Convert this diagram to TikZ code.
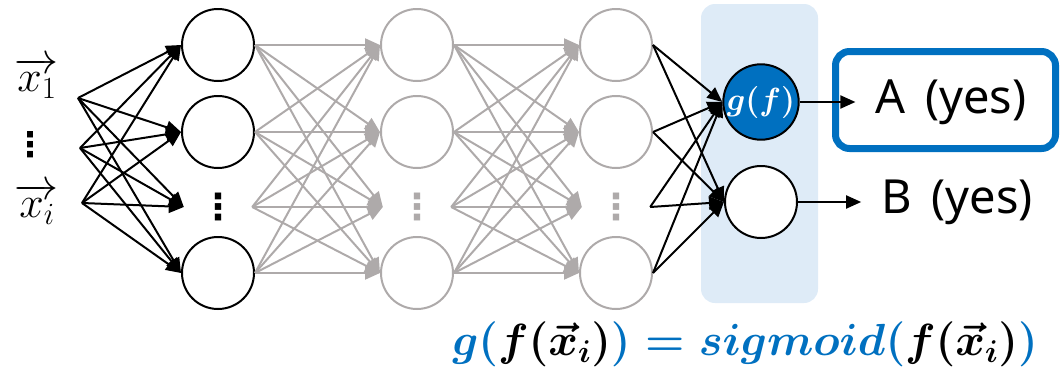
\RequirePackage{fix-cm}
\documentclass[tikz,border=0pt]{standalone}
\usepackage{fontspec}
\usepackage{xcolor}
\usepackage{tikz}
\usetikzlibrary{positioning,arrows.meta}
\newfontfamily\nnsans[WordSpace=1.6]{Noto Sans}
\newfontfamily\nnsym{DejaVu Sans}
\definecolor{nnBlue}{HTML}{0070C0}
\definecolor{nnGray}{HTML}{AEAAAA}
\definecolor{nnShade}{HTML}{DEEBF7}
\newcommand{\nndots}{{\nnsym\bfseries ⋮}}
\newcommand{\blu}{\color{nnBlue}}
\newcommand{\blk}{\color{black}}

\begin{document}
\begin{tikzpicture}[x=1pt,y=-1pt,
    neuron/.style={circle,draw,line width=2pt,minimum size=72pt,inner sep=0pt,fill=white},
    dotcol/.style={minimum width=68pt,minimum height=40pt,inner sep=0pt,font=\fontsize{36}{36}\selectfont},
    blkarrow/.style={line width=2pt,-{Triangle[length=15pt,width=13pt]}},
    grayarrow/.style={blkarrow,draw=nnGray,fill=nnGray},
    outtext/.style={inner sep=20pt,font=\nnsans\fontsize{47}{50}\selectfont},
    inlabel/.style={inner sep=0pt,font=\fontsize{44}{48}\selectfont}]
  \useasboundingbox (0,0) rectangle (1061,370);
  \fill[nnShade,rounded corners=14pt] (701,4) rectangle (818,303);

  % layers
  \foreach \l/\x/\c in {1/218/black,2/417/nnGray,3/616/nnGray}{
    \node[neuron,draw=\c] (h\l-1) at (\x,45) {};
    \node[neuron,draw=\c] (h\l-2) at (\x,132) {};
    \node[dotcol,text=\c] (h\l-3) at (\x,207) {\nndots};
    \node[neuron,draw=\c] (h\l-4) at (\x,273) {};
  }
  \node[neuron,fill=nnBlue,text=white,font=\boldmath\fontsize{32}{32}\selectfont] (o1) at (761,102) {$g(f)$};
  \node[neuron] (o2) at (761,202) {};

  % inputs
  \node[inlabel] (x1) at (37,78) {$\overrightarrow{x_1}$};
  \node[inlabel,font=\fontsize{34}{34}\selectfont] (xd) at (30,145) {\nndots};
  \node[inlabel] (xi) at (37,204) {$\overrightarrow{x_i}$};
  \coordinate (in1) at (78,98);
  \coordinate (in2) at (80,148);
  \coordinate (in3) at (82,203);

  \foreach \s in {1,2,3}
    \foreach \t in {1,...,4}
      \draw[blkarrow] (in\s) -- (h1-\t.west);
  \foreach \s in {1,...,4}
    \foreach \t in {1,...,4}{
      \draw[grayarrow] (h1-\s.east) -- (h2-\t.west);
      \draw[grayarrow] (h2-\s.east) -- (h3-\t.west);
    }
  \foreach \s in {1,...,4}
    \foreach \t in {1,2}
      \draw[blkarrow] (h3-\s.east) -- (o\t.west);

  % outputs
  \node[outtext] (ya) at (951,102) {A (yes)};
  \node[outtext] (yb) at (957,202) {B (yes)};
  \node[draw=nnBlue,line width=7pt,rounded corners=14pt,minimum width=220pt,minimum height=97pt] (boxa) at (945.5,100) {};
  \draw[blkarrow] (o1.east) -- (ya.west);
  \draw[blkarrow] (o2.east) -- (yb.west);

  \node[font=\boldmath\fontsize{45}{48}\selectfont] (eq) at (745,344)
    {$\blu g(\blk f(\vec{x}_i)\blu) = sigmoid(\blk f(\vec{x}_i)\blu)$};
\end{tikzpicture}
\end{document}
